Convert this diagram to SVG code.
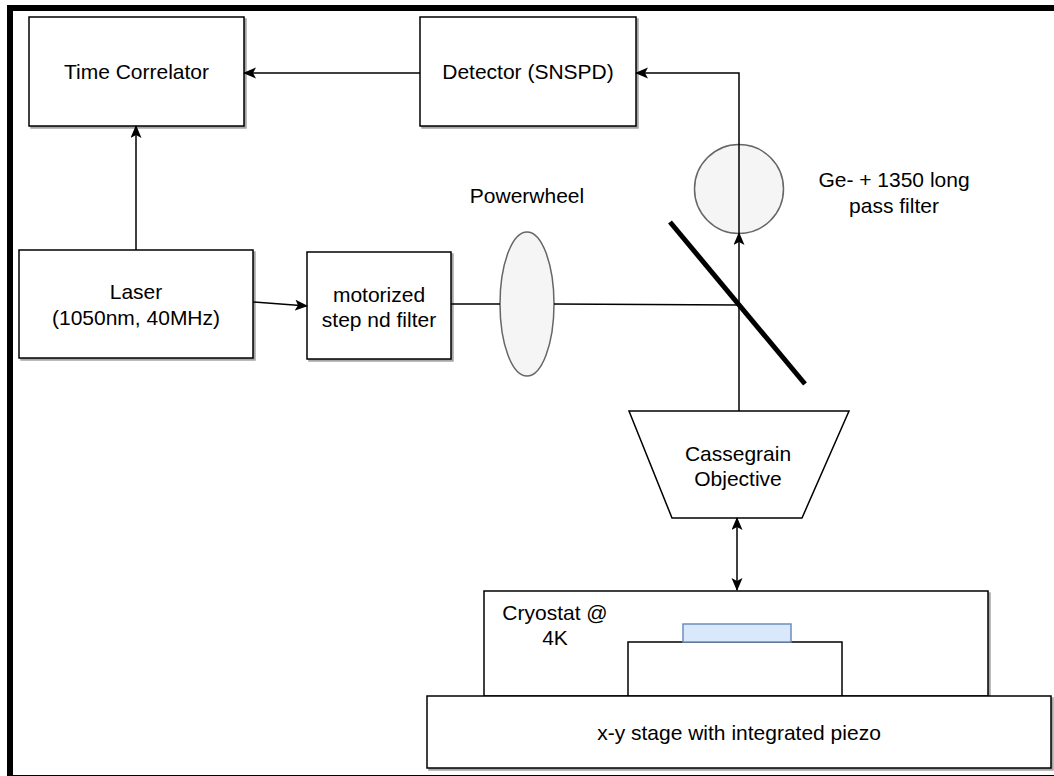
<svg xmlns="http://www.w3.org/2000/svg" width="1054" height="776" viewBox="0 0 1054 776">
<defs>
<style>
.box{fill:#fff;stroke:#000;stroke-width:1.5;filter:url(#sh)}
.lbl{font-family:"Liberation Sans",Arial,Helvetica,sans-serif;font-size:21px;fill:#000;text-anchor:middle}
.con{fill:none;stroke:#000;stroke-width:1.5}
.optic{fill:#f5f5f5;stroke:#666;stroke-width:1.5}
</style>
<filter id="sh" x="-5%" y="-5%" width="115%" height="115%">
<feDropShadow dx="2" dy="2" stdDeviation="0.6" flood-color="#000" flood-opacity="0.35"/>
</filter>
<marker id="arr" markerUnits="userSpaceOnUse" markerWidth="14" markerHeight="12" refX="12" refY="5.5" orient="auto-start-reverse">
<path d="M0,0 L13,5.5 L0,11 L3,5.5 z" fill="#000"/>
</marker>
</defs>
<rect x="10" y="8" width="1100" height="770" fill="none" stroke="#000" stroke-width="6"/>
<g id="time-correlator">
<rect class="box" x="29" y="17" width="215" height="109"/>
<text class="lbl" x="136.5" y="79">Time Correlator</text>
</g>
<g id="detector">
<rect class="box" x="420" y="17" width="216" height="109"/>
<text class="lbl" x="528" y="79">Detector (SNSPD)</text>
</g>
<g id="laser">
<rect class="box" x="19" y="250" width="234" height="108"/>
<text class="lbl" x="136" y="299">Laser</text>
<text class="lbl" x="136" y="325">(1050nm, 40MHz)</text>
</g>
<g id="nd-filter">
<rect class="box" x="307" y="252" width="144" height="107"/>
<text class="lbl" x="379" y="301.5">motorized</text>
<text class="lbl" x="379" y="326.5">step nd filter</text>
</g>
<g id="powerwheel">
<ellipse class="optic" cx="527" cy="304" rx="27" ry="72"/>
<text class="lbl" x="527" y="203">Powerwheel</text>
</g>
<g id="ge-filter">
<circle class="optic" cx="739" cy="189" r="44.5"/>
<text class="lbl" x="894" y="187">Ge- + 1350 long</text>
<text class="lbl" x="894" y="213">pass filter</text>
</g>
<g id="objective">
<path d="M629,411 H849 L802,518 H672 Z" fill="#fff" stroke="#000" stroke-width="1.5"/>
<text class="lbl" x="738" y="461">Cassegrain</text>
<text class="lbl" x="738" y="486">Objective</text>
</g>
<g id="cryostat">
<rect class="box" x="484" y="591" width="504" height="105"/>
<text class="lbl" x="555" y="620">Cryostat @</text>
<text class="lbl" x="555" y="645">4K</text>
</g>
<g id="sample-mount">
<rect x="628" y="642" width="214" height="54" fill="#fff" stroke="#000" stroke-width="1.5"/>
</g>
<g id="sample">
<rect x="683" y="624" width="108" height="18" fill="#dae8fc" stroke="#6c8ebf" stroke-width="1.5"/>
</g>
<g id="stage">
<rect class="box" x="427" y="696" width="624" height="72"/>
<text class="lbl" x="739" y="740">x-y stage with integrated piezo</text>
</g>
<g id="connectors">
<line class="con" x1="136" y1="250" x2="136" y2="126" marker-end="url(#arr)"/>
<line class="con" x1="420" y1="73" x2="244" y2="73" marker-end="url(#arr)"/>
<line class="con" x1="253" y1="302" x2="307" y2="306" marker-end="url(#arr)"/>
<line class="con" x1="451" y1="304" x2="500" y2="304"/>
<line class="con" x1="554" y1="304" x2="739" y2="305"/>
<line class="con" x1="739" y1="411" x2="739" y2="233" marker-end="url(#arr)"/>
<path class="con" d="M739,233 V73 H636" marker-end="url(#arr)"/>
<line class="con" x1="737" y1="518" x2="737" y2="590" marker-start="url(#arr)" marker-end="url(#arr)"/>
</g>
<g id="mirror">
<line x1="670" y1="222" x2="805" y2="384" stroke="#000" stroke-width="5"/>
</g>
</svg>
